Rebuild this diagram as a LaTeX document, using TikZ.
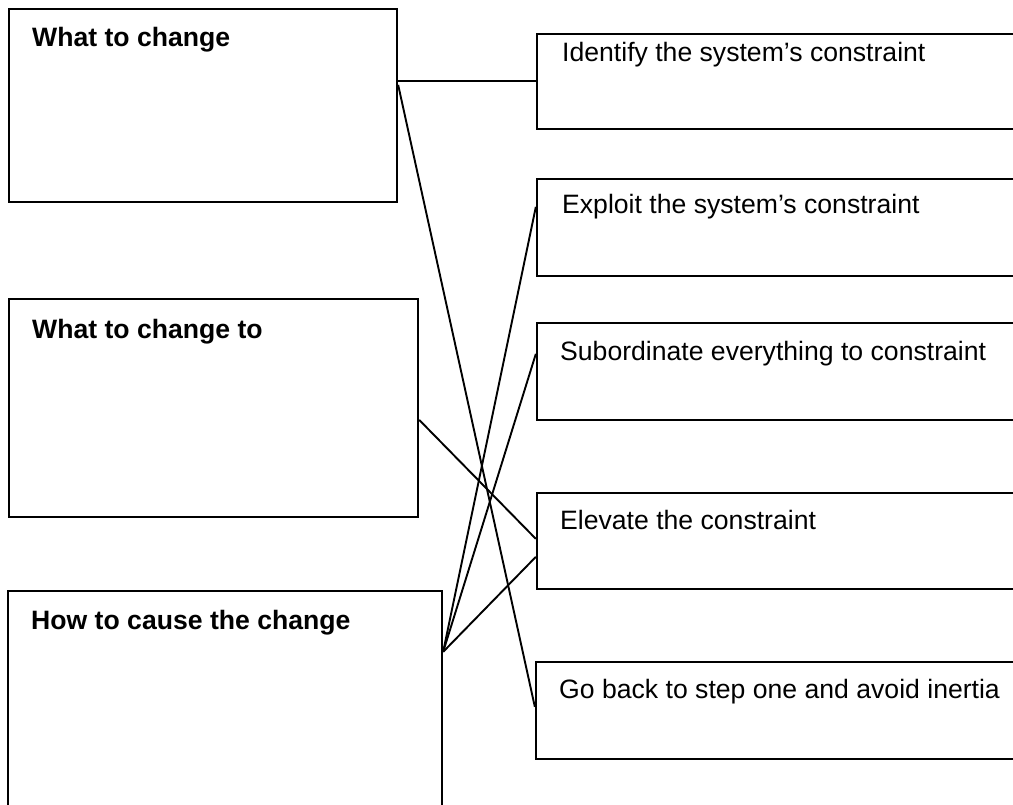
\documentclass[tikz,border=0pt]{standalone}
\usepackage{fontspec}
\setmainfont{Liberation Sans}
\begin{document}
\begin{tikzpicture}[x=1pt,y=-1pt,
  box/.style={draw=black,line width=2.3pt,fill=none,inner sep=0pt,rectangle},
  lbl/.style={inner sep=0pt,anchor=base west,font=\fontsize{26.6}{30}\selectfont},
  hdr/.style={lbl,font=\fontsize{26.6}{30}\selectfont\bfseries},
  link/.style={draw=black,line width=1.9pt}]
\useasboundingbox (0,0) rectangle (1013,805);
\clip (0,0) rectangle (1013,805);
% left boxes
\node[box,minimum width=388pt,minimum height=193pt] (A) at (203,105.5) {};
\node[box,minimum width=409pt,minimum height=218pt] (B) at (213.5,408) {};
\node[box,minimum width=434pt,minimum height=239pt] (C) at (225,710.5) {};
% right boxes
\node[box,minimum width=493pt,minimum height=95pt] (R1) at (783.5,81.5) {};
\node[box,minimum width=493pt,minimum height=97pt] (R2) at (783.5,227.5) {};
\node[box,minimum width=493pt,minimum height=97pt] (R3) at (783.5,371.5) {};
\node[box,minimum width=493pt,minimum height=96pt] (R4) at (783.5,541) {};
\node[box,minimum width=494pt,minimum height=97pt] (R5) at (783,710.5) {};
% labels
\node[hdr] (tA) at (32,47) {What to change};
\node[hdr] (tB) at (32,338) {What to change to};
\node[hdr] (tC) at (31,629) {How to cause the change};
\node[lbl] (t1) at (562,62) {Identify the system’s constraint};
\node[lbl] (t2) at (562,214) {Exploit the system’s constraint};
\node[lbl] (t3) at (560,360) {Subordinate everything to constraint};
\node[lbl] (t4) at (560,529) {Elevate the constraint};
\node[lbl] (t5) at (559,698) {Go back to step one and avoid inertia};
% connector ends
\coordinate (a1) at ([yshift=-73pt]A.north east);
\coordinate (a2) at ([yshift=-77pt]A.north east);
\coordinate (b1) at ([yshift=-122pt]B.north east);
\coordinate (c1) at ([yshift=-62pt]C.north east);
\coordinate (r1) at ([yshift=-48pt]R1.north west);
\coordinate (r2) at ([yshift=-29pt]R2.north west);
\coordinate (r3) at ([yshift=-32pt]R3.north west);
\coordinate (r4a) at ([yshift=-47pt]R4.north west);
\coordinate (r4b) at ([yshift=-65pt]R4.north west);
\coordinate (r5) at ([yshift=-46pt]R5.north west);
% connectors
\draw[link] (a1) -- (r1);
\draw[link] (a2) -- (r5);
\draw[link] (b1) -- (r4a);
\draw[link] (c1) -- (r2);
\draw[link] (c1) -- (r3);
\draw[link] (c1) -- (r4b);
\end{tikzpicture}
\end{document}
